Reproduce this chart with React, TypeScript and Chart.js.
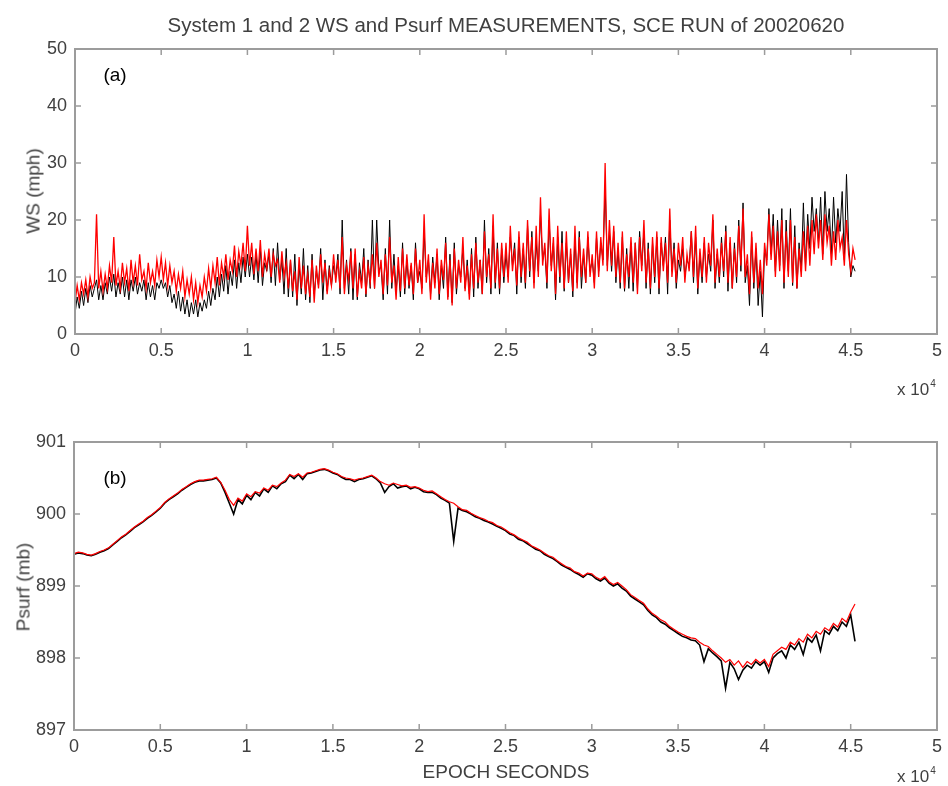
import React, { useEffect, useRef } from "react";
import { Chart, registerables } from "chart.js";

Chart.register(...registerables);

// ---------------- data ----------------
const WS_STEP_S = 125; // wind speed sampling interval (epoch seconds)
const PSURF_STEP_S = 250; // pressure sampling interval (epoch seconds)

const X_TICKS = [0, 5000, 10000, 15000, 20000, 25000, 30000, 35000, 40000, 45000, 50000];
const WS_TICKS = [0, 10, 20, 30, 40, 50];
const PSURF_TICKS = [897, 898, 899, 900, 901];

// Wind speed (mph) — System 1 (black)
const WS_SYS1 = [
  3.5, 6.5, 4.5, 7.5, 5, 8, 5.5, 8.5, 6.5, 8, 9.5, 6, 8.5, 6, 9, 7, 10, 7.5, 10.5, 6.5,
  9, 7, 10, 6.5, 9.5, 6, 9.5, 7.5, 10, 7, 9, 7.5, 9.5, 6, 9, 6.5, 8.5, 6, 9, 8,
  9.5, 8, 9, 6.5, 8.5, 5.5, 7, 4.5, 7.5, 4, 6.5, 3.5, 6, 3, 5.5, 3.5, 6, 3, 5.5, 4,
  6, 4.5, 7.5, 5, 8, 6, 10, 6.5, 10.5, 7.5, 12, 7, 11, 8.5, 13, 8, 12.5, 9, 13.5, 10,
  14, 10, 13.5, 9.5, 14, 9, 15, 8.5, 12.5, 11, 14, 9, 15, 8.5, 16, 9.5, 13, 7, 15, 6.5,
  13, 6.5, 14, 5, 12, 7, 15, 6, 12, 5.5, 14, 7, 11, 8.5, 15, 6, 13, 7.5, 12, 8.5,
  12, 10, 14, 7, 20, 8, 13, 7, 15, 6, 14, 6, 12.5, 9, 15, 6.5, 13, 8, 20, 8,
  20, 11, 12, 6, 15, 7, 20, 8, 14, 7.5, 12, 6.5, 16, 7, 13, 8, 12, 6, 16, 9,
  11, 8, 18, 10, 13, 7, 13.5, 9, 14, 6, 12, 8, 17, 6.5, 14, 5.5, 16, 7, 12, 10,
  15, 8, 13, 7, 15, 6.5, 17, 8, 13, 7, 20, 9, 15, 7, 19, 8, 16, 7, 15, 9,
  14, 10, 17, 12, 16, 7, 17, 9, 15, 8, 19, 10, 18, 9, 16, 11, 21, 13, 15, 8,
  20, 12, 16, 6, 17, 9, 18, 7.5, 16, 9, 14, 6.5, 17, 9, 18, 8, 14, 9, 17, 11,
  13, 9, 17, 11, 16, 13, 26, 12, 18, 11, 18, 9, 15, 8, 17, 7.5, 15, 8, 16, 7.5,
  16, 8, 18, 12, 18, 8, 16, 7, 16, 9, 17, 7, 16, 12, 17, 7, 20, 11, 16, 8,
  13, 11, 15, 10, 13, 12, 18, 9, 17, 7, 14, 9, 16, 10, 14, 11, 20, 8, 14, 9,
  17, 10, 19, 7.5, 16, 8, 16, 9, 20, 11, 23, 9, 12, 5, 17, 8, 15, 5, 11, 3,
  15, 13, 22, 14, 21, 11, 20, 12, 22, 8, 20, 11, 22, 8.5, 19, 8, 16, 11, 23, 12,
  21, 15, 24, 18, 22, 16, 24, 14, 25, 18, 22, 14, 24, 16, 22, 18, 25, 13, 28, 16,
  10, 12, 11,
];

// Wind speed (mph) — System 2 (red)
const WS_SYS2 = [
  5.5, 8.5, 6, 9, 7, 9.5, 6.5, 10, 8, 9, 21, 8, 11, 7.5, 10.5, 8, 12, 9, 17, 8.5,
  11, 8, 12.5, 9, 11.5, 7.5, 13, 9, 12, 8.5, 14, 9.5, 11, 8, 12.5, 9, 11, 8.5, 13, 10,
  13.5, 9.5, 12.5, 8.5, 12, 9, 11, 7.5, 10.5, 8, 11, 6.5, 9.5, 7, 10, 6, 9, 5.5, 8.5, 6.5,
  10, 7.5, 11.5, 8, 12, 9, 13.5, 8.5, 12.5, 10, 14, 9.5, 13, 11, 15.5, 10, 14.5, 12, 16, 11,
  19, 12, 16, 10.5, 15, 11, 16.5, 10, 14, 11.5, 15, 10, 14, 12, 13, 9, 14.5, 10, 12.5, 8,
  13, 7.5, 11, 6, 13.5, 8, 12, 7, 10.5, 6.5, 13, 5.5, 12, 8, 14, 9, 12.5, 7, 11, 8.5,
  14, 9, 13, 8, 17, 7, 12, 9.5, 14.5, 8, 15, 6.5, 11, 8, 13.5, 7, 12, 9, 14, 8,
  16, 10, 13, 7, 14, 8.5, 17, 9, 12, 6, 13.5, 7.5, 15, 8, 14, 8.5, 12.5, 7, 15, 9,
  13, 7, 21, 9, 14, 6, 12.5, 8, 15, 7, 13, 9.5, 16, 6, 13, 5, 15, 8, 13, 9,
  17, 7.5, 12, 6, 14, 8, 16, 9, 13, 7, 18, 10, 14, 8, 21, 9, 15, 8, 16, 10,
  16, 9, 19, 11, 15, 8.5, 18, 10, 16, 9, 20, 11, 17, 8, 19, 10, 24, 12, 16, 9,
  22, 11, 17, 7, 19, 10, 16, 8, 18, 9, 15, 7.5, 19, 8, 17, 10, 15, 9, 18, 10,
  14, 8, 18, 10, 17, 12, 30, 11, 20, 12, 19, 10, 16, 9, 18, 8, 14, 10, 17, 9,
  16, 7, 17, 11, 20, 9, 15, 8, 17, 10, 18, 8, 17, 11, 16, 9, 22, 10, 15, 9,
  16, 12, 17, 9, 14, 11, 18, 10, 19, 8, 15, 10, 17, 9, 16, 12, 21, 9, 15, 10,
  16, 11, 18, 9, 17, 8, 15, 10, 19, 12, 22, 10, 14, 7, 18, 9, 16, 8, 13, 7,
  16, 12, 21, 13, 19, 10, 18, 11, 20, 9, 18, 10, 20, 9, 17, 8, 15, 10, 18, 11,
  19, 12, 20, 14, 21, 15, 20, 13, 21, 16, 19, 12, 18, 13, 20, 15, 17, 12, 20, 14,
  11, 15, 13,
];

// Surface pressure (mb) — System 1 (black)
const PSURF_SYS1 = [
  899.44, 899.46, 899.45, 899.43, 899.42, 899.44, 899.47, 899.49, 899.52, 899.57,
  899.62, 899.67, 899.71, 899.76, 899.81, 899.85, 899.89, 899.94, 899.98, 900.03,
  900.08, 900.15, 900.2, 900.24, 900.28, 900.33, 900.37, 900.41, 900.44, 900.46,
  900.46, 900.47, 900.48, 900.5, 900.43, 900.3, 900.15, 900.0, 900.2, 900.14,
  900.26, 900.2, 900.3, 900.25, 900.35, 900.3, 900.39, 900.35, 900.42, 900.45,
  900.54, 900.49, 900.55, 900.48, 900.56, 900.57, 900.59, 900.61, 900.62, 900.6,
  900.57, 900.55, 900.51, 900.48, 900.48, 900.45, 900.48, 900.49, 900.51, 900.53,
  900.49, 900.43, 900.3, 900.38, 900.42, 900.36, 900.38, 900.39, 900.35, 900.37,
  900.35, 900.31, 900.3, 900.3, 900.27, 900.22, 900.19, 900.15, 899.62, 900.08,
  900.05, 900.03, 900.0, 899.96, 899.94, 899.91, 899.89, 899.86, 899.83, 899.8,
  899.77, 899.72, 899.7, 899.65, 899.63, 899.59, 899.55, 899.51, 899.49, 899.44,
  899.41, 899.38, 899.34, 899.29, 899.26, 899.23, 899.19, 899.16, 899.12, 899.17,
  899.15, 899.1, 899.07, 899.11, 899.04, 899.0, 899.03, 898.97, 898.93, 898.86,
  898.82, 898.78, 898.74, 898.66, 898.6, 898.56, 898.5, 898.47, 898.42, 898.38,
  898.34, 898.3, 898.28, 898.25, 898.24, 898.18, 897.95, 898.13, 898.07, 898.02,
  897.96, 897.58, 897.94, 897.85, 897.7, 897.83, 897.9, 897.86, 897.95, 897.9,
  897.95, 897.8, 898.0, 898.06, 898.1, 898.0, 898.18, 898.12, 898.22, 898.05,
  898.28, 898.22, 898.32, 898.1, 898.38, 898.33, 898.44, 898.38, 898.5, 898.44,
  898.6, 898.23,
];

// Surface pressure (mb) — System 2 (red)
const PSURF_SYS2 = [
  899.45, 899.47, 899.46, 899.44, 899.43, 899.45, 899.48, 899.5, 899.53, 899.58,
  899.63, 899.68, 899.72, 899.77, 899.82, 899.86, 899.9, 899.95, 899.99, 900.04,
  900.09, 900.16, 900.21, 900.25, 900.29, 900.34, 900.38, 900.42, 900.45, 900.47,
  900.47, 900.48, 900.49, 900.51, 900.44, 900.33, 900.2, 900.12, 900.22, 900.18,
  900.28, 900.24, 900.31, 900.29, 900.36, 900.33, 900.4, 900.38, 900.43, 900.47,
  900.55, 900.52, 900.56, 900.51, 900.57, 900.58, 900.6, 900.62, 900.63, 900.61,
  900.58, 900.56, 900.52, 900.5, 900.49, 900.47, 900.49, 900.5, 900.52, 900.54,
  900.5, 900.45, 900.42, 900.4, 900.43, 900.41, 900.39, 900.4, 900.37, 900.38,
  900.36, 900.33, 900.31, 900.32, 900.28, 900.24, 900.2, 900.17, 900.15, 900.1,
  900.06, 900.05, 900.01, 899.98, 899.95, 899.93, 899.9, 899.88, 899.84, 899.82,
  899.78, 899.74, 899.71, 899.67, 899.64, 899.61, 899.56, 899.53, 899.5, 899.46,
  899.42, 899.4, 899.35, 899.31, 899.27, 899.25, 899.2, 899.18, 899.14, 899.18,
  899.17, 899.12, 899.09, 899.13, 899.06, 899.02, 899.05, 899.0, 898.95, 898.88,
  898.84, 898.8, 898.76, 898.68, 898.62, 898.58, 898.53, 898.5, 898.44, 898.4,
  898.36, 898.33, 898.3, 898.28, 898.27, 898.22, 898.18, 898.16, 898.1, 898.05,
  898.0, 897.94, 897.98, 897.9, 897.96, 897.87, 897.95, 897.91, 897.98, 897.93,
  897.98, 897.88, 898.05, 898.1, 898.15, 898.12, 898.22, 898.18, 898.27, 898.22,
  898.33, 898.28, 898.37, 898.33, 898.42, 898.38, 898.48, 898.43, 898.55, 898.5,
  898.64, 898.75,
];

// ---------------- styling ----------------
const FONT = "'Liberation Sans', Arial, Helvetica, sans-serif";
const AXIS_GREY = "#9c9c9c";
const TEXT_GREY = "#404040";

const framePlugin = {
  id: "matlabFrame",
  afterDraw(chart: any) {
    const { ctx, chartArea } = chart;
    const { left, right, top, bottom } = chartArea;
    const xs = chart.scales.x;
    const ys = chart.scales.y;
    const len = 6;
    ctx.save();
    ctx.strokeStyle = AXIS_GREY;
    ctx.lineWidth = 2;
    ctx.strokeRect(left, top, right - left, bottom - top);
    ctx.lineWidth = 1.5;
    ctx.beginPath();
    xs.ticks.forEach((t: any) => {
      const px = xs.getPixelForValue(t.value);
      ctx.moveTo(px, bottom);
      ctx.lineTo(px, bottom - len);
      ctx.moveTo(px, top);
      ctx.lineTo(px, top + len);
    });
    ys.ticks.forEach((t: any) => {
      const py = ys.getPixelForValue(t.value);
      ctx.moveTo(left, py);
      ctx.lineTo(left + len, py);
      ctx.moveTo(right, py);
      ctx.lineTo(right - len, py);
    });
    ctx.stroke();
    ctx.restore();
  },
};

function toPoints(values: number[], step: number) {
  return values.map((v, i) => ({ x: i * step, y: v }));
}

function makeConfig(
  sys1: number[],
  sys2: number[],
  step: number,
  yTicks: number[],
  layout: { top: number; right: number; yWidth: number; xHeight: number },
  widths: { black: number; red: number }
): any {
  return {
    type: "line",
    data: {
      datasets: [
        {
          label: "System 1",
          data: toPoints(sys1, step),
          borderColor: "#000000",
          borderWidth: widths.black,
          pointRadius: 0,
          tension: 0,
          fill: false,
          order: 1, // drawn underneath
        },
        {
          label: "System 2",
          data: toPoints(sys2, step),
          borderColor: "#ff0000",
          borderWidth: widths.red,
          pointRadius: 0,
          tension: 0,
          fill: false,
          order: 0, // drawn on top
        },
      ],
    },
    options: {
      responsive: false,
      animation: false,
      events: [],
      layout: { padding: { top: layout.top, right: layout.right, left: 0, bottom: 0 } },
      plugins: {
        legend: { display: false },
        tooltip: { enabled: false },
        title: { display: false },
      },
      scales: {
        x: {
          type: "linear",
          min: X_TICKS[0],
          max: X_TICKS[X_TICKS.length - 1],
          afterBuildTicks: (s: any) => {
            s.ticks = X_TICKS.map((v) => ({ value: v }));
          },
          afterFit: (s: any) => {
            s.height = layout.xHeight;
          },
          grid: { display: false, drawTicks: false },
          border: { display: false },
          ticks: {
            color: TEXT_GREY,
            font: { family: FONT, size: 18 },
            padding: 6,
            maxRotation: 0,
            autoSkip: false,
            callback: (v: any) => String(Number(v) / 10000),
          },
        },
        y: {
          type: "linear",
          min: yTicks[0],
          max: yTicks[yTicks.length - 1],
          afterBuildTicks: (s: any) => {
            s.ticks = yTicks.map((v) => ({ value: v }));
          },
          afterFit: (s: any) => {
            s.width = layout.yWidth;
          },
          grid: { display: false, drawTicks: false },
          border: { display: false },
          ticks: {
            color: TEXT_GREY,
            font: { family: FONT, size: 18 },
            padding: 8,
            autoSkip: false,
            callback: (v: any) => String(v),
          },
        },
      },
    },
    plugins: [framePlugin],
  };
}

function Label(props: {
  cx: number;
  cy: number;
  size: number;
  color?: string;
  rotate?: number;
  children: React.ReactNode;
}) {
  const { cx, cy, size, color, rotate, children } = props;
  return (
    <div
      style={{
        position: "absolute",
        left: cx,
        top: cy,
        transform: `translate(-50%, -50%)${rotate ? ` rotate(${rotate}deg)` : ""}`,
        fontFamily: FONT,
        fontSize: size,
        lineHeight: 1,
        whiteSpace: "nowrap",
        color: color || TEXT_GREY,
      }}
    >
      {children}
    </div>
  );
}

function Exponent(props: { left: number; cy: number }) {
  return (
    <div
      style={{
        position: "absolute",
        left: props.left,
        top: props.cy - 9,
        fontFamily: FONT,
        fontSize: 17,
        lineHeight: 1,
        whiteSpace: "nowrap",
        color: TEXT_GREY,
      }}
    >
      x 10
      <span style={{ fontSize: 10, position: "relative", top: -8, marginLeft: 1 }}>4</span>
    </div>
  );
}

export default function App() {
  const topRef = useRef<HTMLCanvasElement | null>(null);
  const botRef = useRef<HTMLCanvasElement | null>(null);

  useEffect(() => {
    const charts: Chart[] = [];
    if (topRef.current) {
      charts.push(
        new Chart(
          topRef.current,
          makeConfig(
            WS_SYS1,
            WS_SYS2,
            WS_STEP_S,
            WS_TICKS,
            { top: 49, right: 6, yWidth: 75, xHeight: 66 },
            { black: 1, red: 1.3 }
          )
        )
      );
    }
    if (botRef.current) {
      charts.push(
        new Chart(
          botRef.current,
          makeConfig(
            PSURF_SYS1,
            PSURF_SYS2,
            PSURF_STEP_S,
            PSURF_TICKS,
            { top: 42, right: 6, yWidth: 74, xHeight: 56 },
            { black: 1.6, red: 1.2 }
          )
        )
      );
    }
    return () => charts.forEach((c) => c.destroy());
  }, []);

  return (
    <div
      style={{
        position: "fixed",
        left: 0,
        top: 0,
        width: 948,
        height: 786,
        background: "#ffffff",
        overflow: "hidden",
      }}
    >
      <canvas
        ref={topRef}
        width={948}
        height={400}
        style={{ position: "absolute", left: 0, top: 0, width: 948, height: 400 }}
      />
      <canvas
        ref={botRef}
        width={948}
        height={386}
        style={{ position: "absolute", left: 0, top: 400, width: 948, height: 386 }}
      />
      <Label cx={506} cy={25} size={20.5}>
        System 1 and 2 WS and Psurf MEASUREMENTS, SCE RUN of 20020620
      </Label>
      <Label cx={115} cy={74} size={19} color="#000">
        (a)
      </Label>
      <Label cx={115} cy={477} size={19} color="#000">
        (b)
      </Label>
      <Label cx={33} cy={191} size={19} rotate={-90}>
        WS (mph)
      </Label>
      <Label cx={23} cy={587} size={19} rotate={-90}>
        Psurf (mb)
      </Label>
      <Label cx={506} cy={771} size={19}>
        EPOCH SECONDS
      </Label>
      <Exponent left={897} cy={390} />
      <Exponent left={897} cy={777} />
    </div>
  );
}
